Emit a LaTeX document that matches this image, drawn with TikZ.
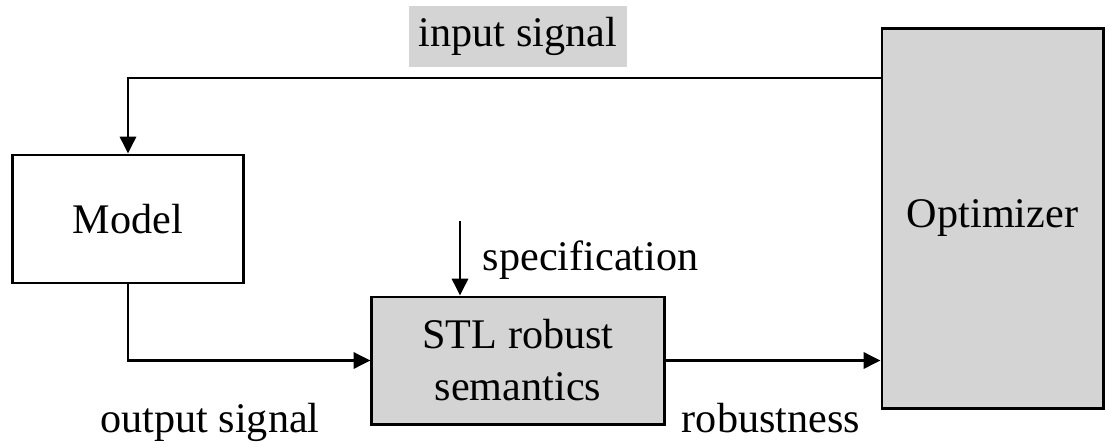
\documentclass[tikz,border=0pt]{standalone}
\usepackage{fontspec}
\setmainfont{Liberation Serif}
\usetikzlibrary{arrows.meta}
\definecolor{boxgray}{RGB}{212,212,212}
\begin{document}
\begin{tikzpicture}[x=0.025cm,y=-0.025cm,font=\fontsize{30}{37}\selectfont,
  blk/.style={draw,line width=2.1pt,align=center,inner sep=0pt},
  conn/.style={line width=2.1pt,-{Triangle[length=0.42cm,width=0.4cm]}}]
\useasboundingbox (0,0) rectangle (1106,442);
\node[fill=boxgray,minimum width=5.45cm,minimum height=1.525cm] (insig) at (518,36.5) {input signal};
\node[blk,minimum width=5.75cm,minimum height=3.2cm] (model) at (128,219) {Model};
\node[blk,fill=boxgray,minimum width=7.3cm,minimum height=3.175cm] (stl) at (518,360.5) {STL robust\\semantics};
\node[blk,fill=boxgray,minimum width=5.525cm,minimum height=9.475cm] (optim) at (992.5,218.5) {Optimizer};
\node[anchor=base west] (spec) at (478,270) {specification};
\node[anchor=base] (outsig) at (210,432) {output signal};
\node[anchor=base] (robust) at (771,432) {robustness};
\coordinate (optin) at (optim.west |- 0,78);
\coordinate (spectop) at (460,221);
\draw[conn] (optin) -| (model.north);
\draw[conn] (model.south) |- (stl.west);
\draw[conn] (spectop) -- (spectop |- stl.north);
\draw[conn] (stl.east) -- (stl.east -| optim.west);
\end{tikzpicture}
\end{document}
